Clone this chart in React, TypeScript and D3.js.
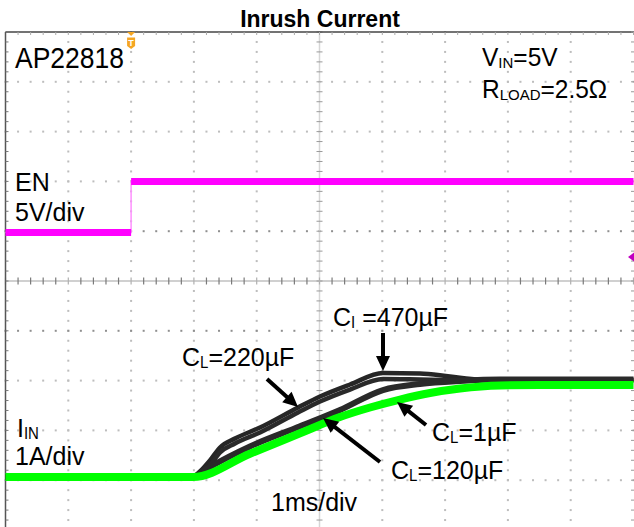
import React from 'react';
import * as d3 from 'd3';

const W = 634;
const H = 527;

// graticule geometry (10 x 10 divisions)
const X0 = 5.5;
const DX = 62.8;
const Y0 = 32;
const DY = 49.8;

// EN channel (V), 5V/div
const enTime = [-2, 0, 0, 8];
const enVolt = [-0.12, -0.12, 5.0, 5.0];

// I_IN traces (A), 1A/div, time in ms
const t1uF = [-2, 0.986, 1.893, 2.69, 3.326, 3.804, 4.282, 4.76, 5.237, 5.874, 6.511, 8];
const i1uF = [0.064, 0.064, 0.532, 0.942, 1.269, 1.46, 1.62, 1.751, 1.841, 1.902, 1.912, 1.912];

const t120uF = [-2, 0.986, 1.097, 1.256, 1.893, 2.69, 3.326, 4.011, 4.6, 5.237, 5.874, 8];
const i120uF = [0.064, 0.064, 0.145, 0.265, 0.677, 1.082, 1.41, 1.811, 1.932, 1.992, 2.022, 2.022];

const t220uF = [-2, 0.986, 1.097, 1.256, 1.416, 1.654, 2.053, 2.658, 3.008, 3.486, 4.011, 4.6, 5.078, 5.556, 6.193, 8];
const i220uF = [0.064, 0.064, 0.114, 0.295, 0.556, 0.737, 0.958, 1.359, 1.58, 1.821, 2.032, 2.022, 2.012, 2.012, 2.012, 2.012];

const t470uF = [-2, 0.986, 1.097, 1.256, 1.416, 1.654, 2.053, 2.658, 3.008, 3.486, 4.011, 4.6, 5.078, 5.556, 6.193, 8];
const i470uF = [0.064, 0.064, 0.175, 0.396, 0.657, 0.837, 1.058, 1.46, 1.681, 1.922, 2.153, 2.143, 2.082, 2.022, 2.012, 2.012];

// annotation arrows in data units (ms, A): from -> to (tip)
const arrowFromT = [2.164, 4.011, 4.696, 3.963];
const arrowFromI = [2.032, 2.956, 1.109, 0.365];
const arrowToT = [2.658, 4.011, 4.234, 3.056];
const arrowToI = [1.47, 2.193, 1.57, 1.249];

const FONT = '"Liberation Sans", Arial, Helvetica, sans-serif';

const xScale = d3.scaleLinear().domain([-2, 8]).range([X0, X0 + 10 * DX]);
const iScale = d3.scaleLinear().domain([-1, 9]).range([Y0 + 10 * DY, Y0]);
const vScale = d3.scaleLinear().domain([-30, 20]).range([Y0 + 10 * DY, Y0]);

const zip = (a: number[], b: number[]) => a.map((v, k) => [v, b[k]] as [number, number]);

const currentLine = d3
  .line<[number, number]>()
  .x((d) => xScale(d[0]))
  .y((d) => iScale(d[1]))
  .curve(d3.curveMonotoneX);

const enLine = d3
  .line<[number, number]>()
  .x((d) => xScale(d[0]))
  .y((d) => vScale(d[1]));

function Grid() {
  const els: React.ReactNode[] = [];
  const yBottom = H;
  const xRight = X0 + 10 * DX;
  for (let i = 1; i < 10; i++) {
    if (i === 5) continue;
    const x = X0 + i * DX;
    for (let k = 0; k <= 50; k++) {
      const y = Y0 + (k * DY) / 5;
      if (y > H) break;
      els.push(<rect key={`v${i}-${k}`} x={x - 1} y={y - 1} width={2} height={2} fill="#bdbdbd" />);
    }
  }
  for (let j = 1; j < 10; j++) {
    if (j === 5) continue;
    const y = Y0 + j * DY;
    for (let k = 0; k <= 50; k++) {
      const x = X0 + (k * DX) / 5;
      els.push(<rect key={`h${j}-${k}`} x={x - 1} y={y - 1} width={2} height={2} fill={j === 4 || j === 6 ? '#8f8f8f' : '#bdbdbd'} />);
    }
  }
  const cx = X0 + 5 * DX;
  const cy = Y0 + 5 * DY;
  els.push(<line key="cxl" x1={cx} x2={cx} y1={Y0} y2={yBottom} stroke="#d6d6d6" strokeWidth={1.5} />);
  els.push(<line key="cyl" x1={X0} x2={xRight} y1={cy} y2={cy} stroke="#d0d0d0" strokeWidth={2} />);
  for (let k = 0; k <= 50; k++) {
    const y = Y0 + (k * DY) / 5;
    if (y > H) break;
    els.push(<line key={`cxt${k}`} x1={cx - 3} x2={cx + 3} y1={y} y2={y} stroke="#9a9a9a" strokeWidth={1} />);
  }
  for (let k = 0; k <= 50; k++) {
    const x = X0 + (k * DX) / 5;
    els.push(<line key={`cyt${k}`} x1={x} x2={x} y1={cy - 3.5} y2={cy + 3.5} stroke={k % 5 === 0 ? '#b0b0b0' : '#7a7a7a'} strokeWidth={1.2} />);
  }
  els.push(<line key="lb" x1={X0} x2={X0} y1={Y0} y2={yBottom} stroke="#555" strokeWidth={1.5} />);
  els.push(<line key="tb" x1={X0} x2={W} y1={Y0} y2={Y0} stroke="#444" strokeWidth={1.5} />);
  for (let k = 0; k <= 50; k++) {
    const y = Y0 + (k * DY) / 5;
    if (y > H) break;
    els.push(<line key={`lt${k}`} x1={X0} x2={X0 + 3} y1={y} y2={y} stroke="#777" strokeWidth={1} />);
    els.push(<line key={`rt${k}`} x1={W - 3} x2={W} y1={y} y2={y} stroke="#999" strokeWidth={1} />);
  }
  for (let k = 1; k <= 50; k++) {
    const x = X0 + (k * DX) / 5;
    els.push(<line key={`tt${k}`} x1={x} x2={x} y1={Y0} y2={Y0 + 3} stroke="#aaa" strokeWidth={1} />);
  }
  return <g>{els}</g>;
}

function Arrow({ x1, y1, x2, y2 }: { x1: number; y1: number; x2: number; y2: number }) {
  const dx = x2 - x1;
  const dy = y2 - y1;
  const len = Math.hypot(dx, dy);
  const ux = dx / len;
  const uy = dy / len;
  const hl = 15;
  const hw = 7;
  const bx = x2 - ux * hl;
  const by = y2 - uy * hl;
  const pts = [
    [x2, y2],
    [bx - uy * hw, by + ux * hw],
    [bx + uy * hw, by - ux * hw],
  ]
    .map((p) => p.join(','))
    .join(' ');
  return (
    <g>
      <line x1={x1} y1={y1} x2={bx + ux * 2} y2={by + uy * 2} stroke="#000" strokeWidth={4} />
      <polygon points={pts} fill="#000" />
    </g>
  );
}

function Label({ x, y, size = 25, sy = 1.05, children }: { x: number; y: number; size?: number; sy?: number; children: React.ReactNode }) {
  return (
    <text transform={`translate(${x},${y}) scale(1,${sy})`} fontSize={size} fontFamily={FONT} fill="#000">
      {children}
    </text>
  );
}

function Sub({ main, sub, rest, x, y, size = 25, subSize = 15, sy = 1.05 }: { main: string; sub: string; rest: string; x: number; y: number; size?: number; subSize?: number; sy?: number }) {
  return (
    <Label x={x} y={y} size={size} sy={sy}>
      {main}
      <tspan fontSize={subSize} dy={2}>
        {sub}
      </tspan>
      <tspan dy={-2}>{rest}</tspan>
    </Label>
  );
}

export default function App() {
  const enPts = zip(enTime, enVolt);
  const flatSegs: [number, number][][] = [];
  for (let k = 0; k < enPts.length - 1; k++) {
    if (enPts[k][1] === enPts[k + 1][1]) flatSegs.push([enPts[k], enPts[k + 1]]);
  }
  const trigX = xScale(0);

  return (
    <svg width={W} height={H} style={{ position: 'absolute', left: 0, top: 0, background: '#fff' }}>
      <rect x={0} y={0} width={W} height={H} fill="#fff" />
      <text x={W / 2 + 3} y={26.5} textAnchor="middle" fontSize={23} fontWeight="bold" fontFamily={FONT}>
        Inrush Current
      </text>
      <Grid />

      {/* EN trace */}
      <path d={enLine(enPts) || ''} fill="none" stroke="#ff90ff" strokeWidth={1.5} />
      {flatSegs.map((s, k) => (
        <path key={k} d={enLine(s) || ''} fill="none" stroke="#ff00ff" strokeWidth={7} />
      ))}
      <polygon points={`${W - 6},${vScale(-2.6)} ${W},${vScale(-2.6) - 4.5} ${W},${vScale(-2.6) + 4.5}`} fill="#c000c0" />

      {/* current traces */}
      <path d={currentLine(zip(t470uF, i470uF)) || ''} fill="none" stroke="#262626" strokeWidth={4.5} />
      <path d={currentLine(zip(t220uF, i220uF)) || ''} fill="none" stroke="#2a2a2a" strokeWidth={4.5} />
      <path d={currentLine(zip(t120uF, i120uF)) || ''} fill="none" stroke="#2a2a2a" strokeWidth={6} />
      <path d={currentLine(zip(t1uF, i1uF)) || ''} fill="none" stroke="#00ff00" strokeWidth={8} />

      {/* trigger marker */}
      <polygon points={`${trigX - 4},${Y0} ${trigX + 4},${Y0} ${trigX},${Y0 + 4}`} fill="#f5a623" />
      <path
        d={`M${trigX - 4},${Y0 + 5.5} H${trigX + 4} V${Y0 + 14} L${trigX},${Y0 + 17} L${trigX - 4},${Y0 + 14} Z`}
        fill="#f5a623"
      />
      <text x={trigX} y={Y0 + 13.5} textAnchor="middle" fontSize={9} fontWeight="bold" fontFamily={FONT} fill="#fff">
        T
      </text>

      {/* arrows */}
      {arrowFromT.map((t, k) => (
        <Arrow key={k} x1={xScale(t)} y1={iScale(arrowFromI[k])} x2={xScale(arrowToT[k])} y2={iScale(arrowToI[k])} />
      ))}

      {/* labels */}
      <Label x={15} y={67.5} size={26.5} sy={1.1}>
        AP22818
      </Label>
      <Sub main="V" sub="IN" rest="=5V" x={482} y={66} size={24.5} subSize={15} sy={1.02} />
      <Sub main="R" sub="LOAD" rest="=2.5Ω" x={482} y={98} size={24.5} subSize={15} sy={1.02} />
      <Label x={15} y={191}>EN</Label>
      <Label x={15} y={221}>5V/div</Label>
      <Sub main="I" sub="IN" rest="" x={17} y={437} />
      <Label x={15} y={465}>1A/div</Label>
      <Label x={271} y={511}>1ms/div</Label>
      <Sub main="C" sub="L" rest="=220µF" x={182} y={366} />
      <Sub main="C" sub="I" rest=" =470µF" x={333} y={326} />
      <Sub main="C" sub="L" rest="=1µF" x={432} y={441} />
      <Sub main="C" sub="L" rest="=120µF" x={391} y={479} />
    </svg>
  );
}
